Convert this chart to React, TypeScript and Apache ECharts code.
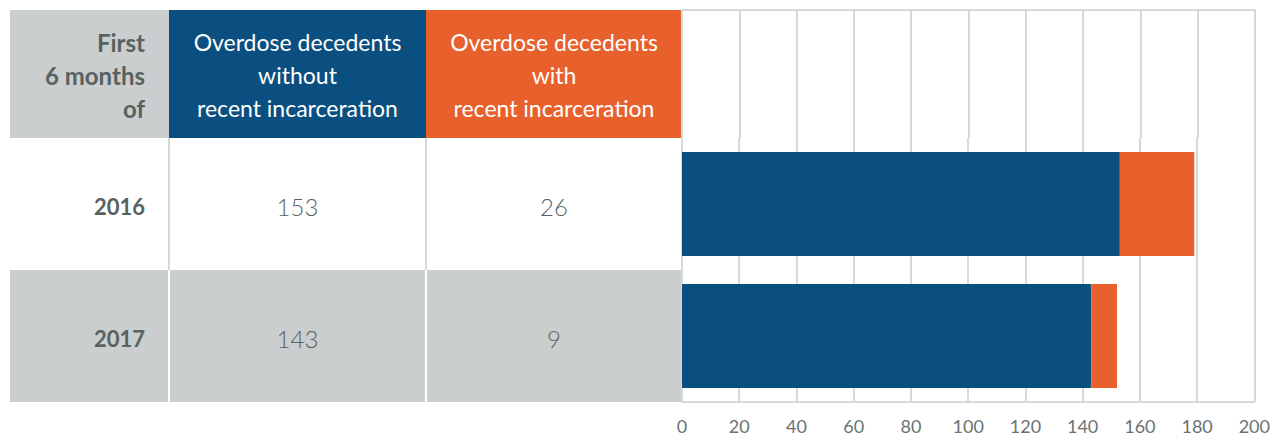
import React, { useEffect, useRef } from "react";
import * as echarts from "echarts";

const years = ["2016", "2017"];
const withoutIncarceration = [153, 143];
const withIncarceration = [26, 9];
const headerTexts = [
  "First\n6 months\nof",
  "Overdose decedents\nwithout\nrecent incarceration",
  "Overdose decedents\nwith\nrecent incarceration",
];
const seriesNames = ["Overdose decedents without recent incarceration", "Overdose decedents with recent incarceration"];

const BLUE = "#0a4f80";
const ORANGE = "#e8602c";
const GRAY = "#cacecf";
const GRID = "#d6d9d9";
const TEXT = "#58625f";
const FONT = "Lato, 'Open Sans', sans-serif";

const colX = [10, 169, 426, 682];
const rowY = [10, 138, 270, 402];

function buildTable(): any[] {
  const els: any[] = [];
  const headerFills = [GRAY, BLUE, ORANGE];
  for (let c = 0; c < 3; c++) {
    els.push({
      type: "rect",
      shape: { x: colX[c], y: rowY[0], width: colX[c + 1] - colX[c], height: rowY[1] - rowY[0] },
      style: { fill: headerFills[c] },
    });
  }
  els.push({ type: "rect", shape: { x: colX[0], y: rowY[1], width: colX[3] - colX[0], height: rowY[2] - rowY[1] }, style: { fill: "#ffffff" } });
  els.push({ type: "rect", shape: { x: colX[0], y: rowY[2], width: colX[3] - colX[0], height: rowY[3] - rowY[2] }, style: { fill: GRAY } });
  for (let c = 1; c < 3; c++) {
    els.push({ type: "line", shape: { x1: colX[c], y1: rowY[1], x2: colX[c], y2: rowY[2] }, style: { stroke: GRID, lineWidth: 2 } });
    els.push({ type: "line", shape: { x1: colX[c], y1: rowY[2], x2: colX[c], y2: rowY[3] }, style: { stroke: "#ffffff", lineWidth: 2 } });
  }
  const headerMid = (rowY[0] + rowY[1]) / 2 + 1;
  els.push({
    type: "text",
    style: { text: headerTexts[0], x: 145, y: headerMid, align: "right", verticalAlign: "middle", fill: TEXT, font: `bold 24px ${FONT}`, lineHeight: 33 },
  });
  for (let c = 1; c < 3; c++) {
    els.push({
      type: "text",
      style: { text: headerTexts[c], x: (colX[c] + colX[c + 1]) / 2, y: headerMid, align: "center", verticalAlign: "middle", fill: "#ffffff", font: `23px ${FONT}`, lineHeight: 33 },
    });
  }
  for (let r = 0; r < years.length; r++) {
    const mid = (rowY[r + 1] + rowY[r + 2]) / 2 + 2;
    els.push({ type: "text", style: { text: years[r], x: 145, y: mid, align: "right", verticalAlign: "middle", fill: TEXT, font: `bold 22px ${FONT}` } });
    els.push({ type: "text", style: { text: String(withoutIncarceration[r]), x: (colX[1] + colX[2]) / 2, y: mid, align: "center", verticalAlign: "middle", fill: TEXT, font: `300 24px ${FONT}` } });
    els.push({ type: "text", style: { text: String(withIncarceration[r]), x: (colX[2] + colX[3]) / 2, y: mid, align: "center", verticalAlign: "middle", fill: TEXT, font: `300 24px ${FONT}` } });
  }
  return els;
}

export default function App() {
  const ref = useRef<HTMLDivElement>(null);
  useEffect(() => {
    document.body.style.margin = "0";
    const chart = echarts.init(ref.current!, null, { renderer: "svg" });
    const splitLine = { show: true, lineStyle: { color: GRID, width: 2 } };
    chart.setOption({
      animation: false,
      backgroundColor: "#ffffff",
      grid: [
        { left: 682, right: 18, top: 138, bottom: 35 },
        { left: 682, right: 18, top: 10, height: 128 },
      ],
      xAxis: [
        {
          type: "value",
          gridIndex: 0,
          min: 0,
          max: 200,
          interval: 20,
          axisLine: { show: true, lineStyle: { color: GRID, width: 2 } },
          axisTick: { show: false },
          axisLabel: { color: "#6b7372", fontSize: 18, fontFamily: FONT, margin: 15 },
          splitLine,
        },
        {
          type: "value",
          gridIndex: 1,
          position: "top",
          min: 0,
          max: 200,
          interval: 20,
          axisLine: { show: true, lineStyle: { color: GRID, width: 2 } },
          axisTick: { show: false },
          axisLabel: { show: false },
          splitLine,
        },
      ],
      yAxis: [
        { type: "category", gridIndex: 0, data: years, inverse: true, show: false },
        { type: "category", gridIndex: 1, data: [""], show: false },
      ],
      series: [
        {
          name: seriesNames[0],
          type: "bar",
          stack: "total",
          data: withoutIncarceration,
          barWidth: 104,
          itemStyle: { color: BLUE },
          xAxisIndex: 0,
          yAxisIndex: 0,
        },
        {
          name: seriesNames[1],
          type: "bar",
          stack: "total",
          data: withIncarceration,
          barWidth: 104,
          itemStyle: { color: ORANGE },
          xAxisIndex: 0,
          yAxisIndex: 0,
        },
      ],
      graphic: buildTable(),
    });
    return () => chart.dispose();
  }, []);
  return <div ref={ref} style={{ width: 1273, height: 437 }} />;
}
